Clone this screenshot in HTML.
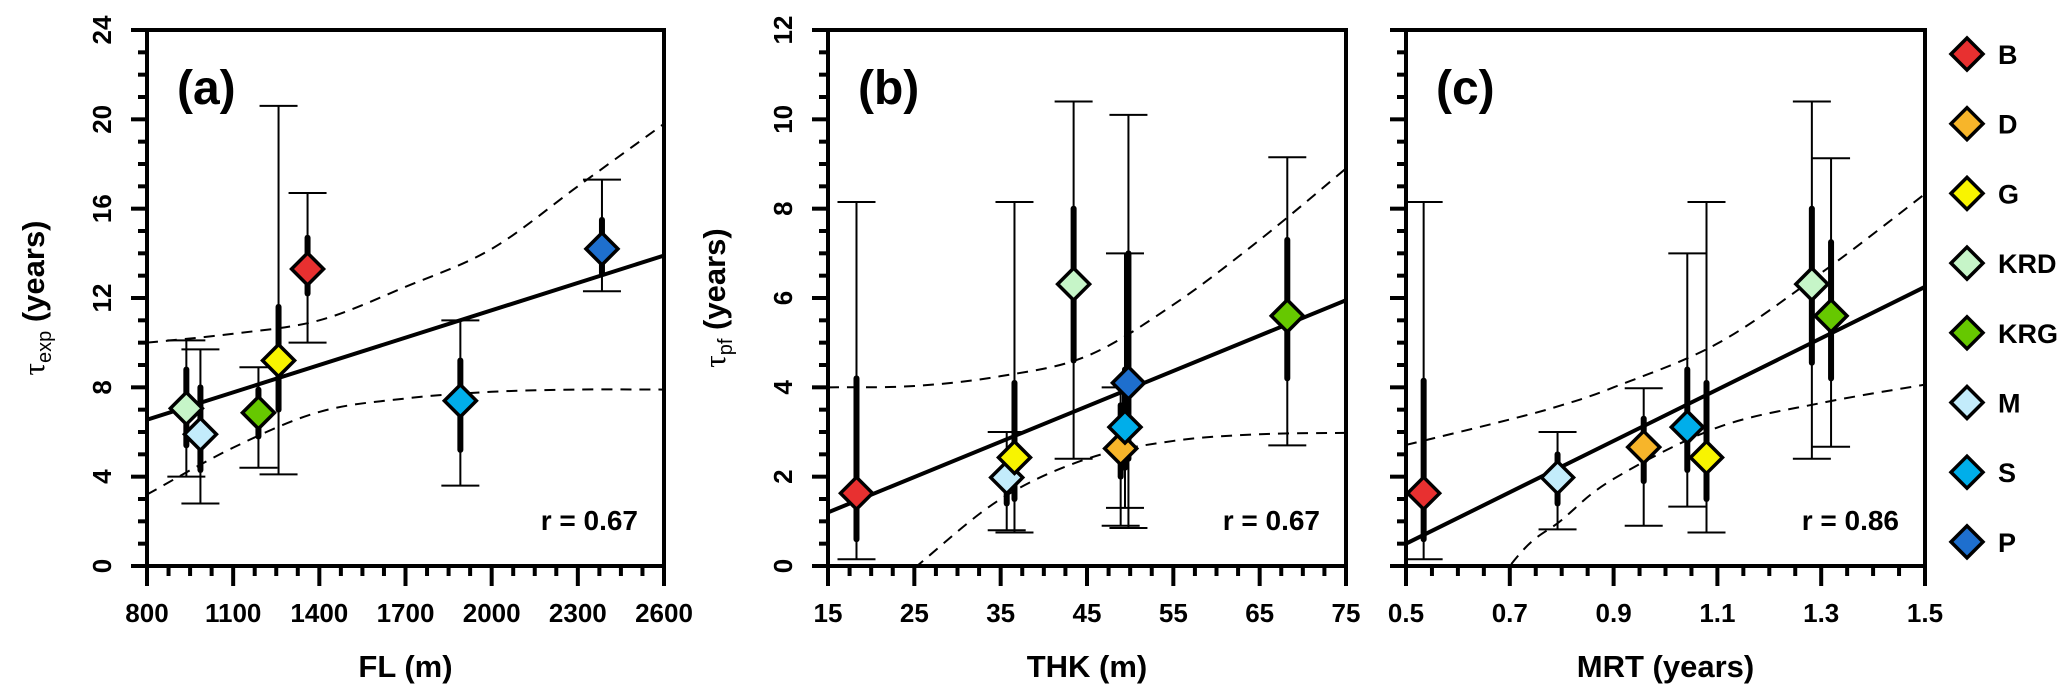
<!DOCTYPE html>
<html><head><meta charset="utf-8"><style>
html,body{margin:0;padding:0;background:#fff;}
svg{display:block;font-family:"Liberation Sans",Arial,sans-serif;font-weight:bold;}
</style></head><body>
<svg id="chart" width="2067" height="692" viewBox="0 0 2067 692" xmlns="http://www.w3.org/2000/svg"></svg>
<script>
// ---- data ----
const names = ["B","D","G","KRD","KRG","M","S","P"];
const colors = ["#e83030","#f7b52a","#f8f400","#c6f5c8","#66c800","#c3ecfb","#00aeea","#1e6fce"];

// panel a: FL vs tau_exp
const aNames = ["KRD","M","KRG","G","B","S","P"];
const aX = [937,986,1188,1258,1359,1891,2384];
const aY = [7.06,5.9,6.86,9.2,13.3,7.4,14.2];
const aThickLo = [5.4,4.3,5.8,7.0,12.2,5.2,13.1];
const aThickHi = [8.8,8.0,7.9,11.6,14.7,9.2,15.5];
const aOutLo = [4.0,2.8,4.4,4.1,10.0,3.6,12.3];
const aOutHi = [10.1,9.7,8.9,20.6,16.7,11.0,17.3];
const aFit = [6.55,13.9];
const aBandX = [800,1100,1400,1700,2000,2300,2600];
const aBandUp = [10.0,10.4,11.0,12.5,14.2,17.0,19.8];
const aBandLo = [3.2,5.3,6.9,7.5,7.8,7.9,7.9];
const aXTicks = [800,1100,1400,1700,2000,2300,2600];
const aYTicks = [0,4,8,12,16,20,24];

// panel b: THK vs tau_pf
const bNames = ["B","M","G","KRD","D","S","P","KRG"];
const bX = [18.3,35.7,36.6,43.45,48.9,49.4,49.8,68.2];
const bY = [1.63,1.98,2.43,6.31,2.63,3.11,4.1,5.6];
const bThickLo = [0.6,1.4,1.5,4.6,2.0,2.2,2.4,4.2];
const bThickHi = [4.2,2.3,4.1,8.0,3.6,4.4,7.0,7.3];
const bOutLo = [0.15,0.8,0.75,2.4,0.9,1.3,0.85,2.7];
const bOutHi = [8.15,3.0,8.15,10.4,4.0,7.0,10.1,9.15];
const bFit = [1.2,5.95];
const bBandX = [15,25,35,45,55,65,75];
const bBandUp = [4.0,4.03,4.25,4.7,5.85,7.3,8.9];
const bBandLo = [-1.7,-0.05,1.5,2.4,2.8,2.95,2.98];
const bXTicks = [15,25,35,45,55,65,75];
const bYTicks = [0,2,4,6,8,10,12];

// panel c: MRT vs tau_pf
const cNames = ["B","M","D","S","G","KRD","KRG"];
const cX = [0.534,0.792,0.958,1.042,1.079,1.282,1.319];
const cY = [1.63,1.98,2.66,3.11,2.43,6.31,5.6];
const cThickLo = [0.6,1.4,1.9,2.15,1.5,4.55,4.2];
const cThickHi = [4.15,2.5,3.3,4.4,4.1,8.0,7.25];
const cOutLo = [0.15,0.82,0.9,1.33,0.75,2.4,2.67];
const cOutHi = [8.15,3.0,3.98,7.0,8.15,10.4,9.13];
const cFit = [0.5,6.25];
const cBandX = [0.5,0.7,0.8,0.9,1.1,1.3,1.5];
const cBandUp = [2.71,3.28,3.6,4.0,4.98,6.56,8.33];
const cBandLo = [-3.5,0.0,1.03,1.95,3.1,3.65,4.06];
const cXTicks = [0.5,0.7,0.9,1.1,1.3,1.5];
const cYTicks = [0,2,4,6,8,10,12];

const NS = "http://www.w3.org/2000/svg";
const svg = document.getElementById("chart");
function el(tag, attrs, parent){
  const e = document.createElementNS(NS, tag);
  for (const k in attrs) e.setAttribute(k, attrs[k]);
  (parent||svg).appendChild(e);
  return e;
}
function colorOf(n){ return colors[names.indexOf(n)]; }
function smoothPath(pts){
  let d = "M" + pts[0][0] + "," + pts[0][1];
  for (let i = 0; i < pts.length - 1; i++) {
    const p0 = pts[Math.max(0, i - 1)], p1 = pts[i], p2 = pts[i + 1], p3 = pts[Math.min(pts.length - 1, i + 2)];
    const c1x = p1[0] + (p2[0] - p0[0]) / 6, c1y = p1[1] + (p2[1] - p0[1]) / 6;
    const c2x = p2[0] - (p3[0] - p1[0]) / 6, c2y = p2[1] - (p3[1] - p1[1]) / 6;
    d += ` C${c1x},${c1y} ${c2x},${c2y} ${p2[0]},${p2[1]}`;
  }
  return d;
}

function panel(cfg){
  const {id,L,R,T,B,xmin,xmax,ymin,ymax,xTicks,yTicks,xMinorStep,yMinorStep,yLabels} = cfg;
  const sx = v => L + (v - xmin) / (xmax - xmin) * (R - L);
  const sy = v => B - (v - ymin) / (ymax - ymin) * (B - T);
  const g = el("g", {});
  
  
  const clip = el("clipPath", {id: "clip-" + id}, g);
  el("rect", {x: L, y: T, width: R - L, height: B - T}, clip);

  const ticks = el("g", {stroke: "#000", "stroke-width": 4}, g);
  
  
  for (let v = xmin; v <= xmax + 1e-9; v += xMinorStep) {
    const major = xTicks.some(t => Math.abs(t - v) < 1e-6);
    el("line", {x1: sx(v), x2: sx(v), y1: B, y2: B + (major ? 20 : 10)}, ticks);
  }
  for (let v = ymin; v <= ymax + 1e-9; v += yMinorStep) {
    const major = yTicks.some(t => Math.abs(t - v) < 1e-6);
    el("line", {x1: L, x2: L - (major ? 16 : 9), y1: sy(v), y2: sy(v)}, ticks);
  }
  xTicks.forEach(t => {
    const tx = el("text", {x: sx(t), y: 622, "text-anchor": "middle", "font-size": 26}, g);
    tx.textContent = String(t);
    
    
  });
  if (yLabels) {
    yTicks.forEach(t => {
      const tx = el("text", {x: 0, y: 0, "text-anchor": "middle", "font-size": 26,
        transform: `translate(${L - 36},${sy(t)}) rotate(-90)`}, g);
      tx.textContent = String(t);
      
      
    });
  }

  const plot = el("g", {"clip-path": `url(#clip-${id})`}, g);
  [cfg.bandUp, cfg.bandLo].forEach((arr, i) => {
    const pts = cfg.bandX.map((x, k) => [sx(x), sy(arr[k])]);
    const p = el("path", {d: smoothPath(pts), fill: "none", stroke: "#000", "stroke-width": 2, "stroke-dasharray": "11,8"}, plot);
    
    
  });
  const fit = el("line", {x1: sx(xmin), y1: sy(cfg.fit[0]), x2: sx(xmax), y2: sy(cfg.fit[1]), stroke: "#000", "stroke-width": 4}, plot);
  
  

  cfg.pn.forEach((n, i) => {
    const x = sx(cfg.px[i]);
    const eb = el("g", {stroke: "#000"}, g);
    
    
    el("line", {x1: x, x2: x, y1: sy(cfg.oLo[i]), y2: sy(cfg.oHi[i]), "stroke-width": 2}, eb);
    el("line", {x1: x - 19, x2: x + 19, y1: sy(cfg.oLo[i]), y2: sy(cfg.oLo[i]), "stroke-width": 2}, eb);
    el("line", {x1: x - 19, x2: x + 19, y1: sy(cfg.oHi[i]), y2: sy(cfg.oHi[i]), "stroke-width": 2}, eb);
    el("line", {x1: x, x2: x, y1: sy(cfg.tLo[i]), y2: sy(cfg.tHi[i]), "stroke-width": 6, "stroke-linecap": "round"}, eb);
  });
  cfg.pn.forEach((n, i) => {
    const x = sx(cfg.px[i]), y = sy(cfg.py[i]), h = 16;
    const m = el("polygon", {points: `${x},${y-h} ${x+h},${y} ${x},${y+h} ${x-h},${y}`,
      fill: colorOf(n), stroke: "#000", "stroke-width": 3.5, "stroke-linejoin": "miter"}, g);
    
    
  });

  const fr = el("rect", {x: L, y: T, width: R - L, height: B - T, fill: "none", stroke: "#000", "stroke-width": 4}, g);
  
  

  const lab = el("text", {x: L + 30, y: 104, "font-size": 48}, g);
  lab.textContent = "(" + id + ")";
  
  
  const r = el("text", {x: R - 26, y: 530, "text-anchor": "end", "font-size": 28}, g);
  r.textContent = cfg.r;
  
  
  const xt = el("text", {x: (L + R) / 2, y: 677, "text-anchor": "middle", "font-size": 31}, g);
  xt.textContent = cfg.xTitle;
  
  
  if (cfg.ySub) {
    const yt = el("text", {x: 0, y: 0, "text-anchor": "middle", "font-size": 31,
      transform: `translate(${L - 103},${(T + B) / 2}) rotate(-90)`}, g);
    
    
    const t1 = el("tspan", {"font-weight": "normal", "font-family": "Liberation Serif, serif"}, yt); t1.textContent = "τ";
    const t2 = el("tspan", {"font-size": 20, dy: 7, "font-weight": "normal"}, yt); t2.textContent = cfg.ySub;
    const t3 = el("tspan", {dy: -7}, yt); t3.textContent = " (years)";
  }
}

panel({id:"a",L:147,R:664,T:30,B:566,xmin:800,xmax:2600,ymin:0,ymax:24,xTicks:aXTicks,yTicks:aYTicks,xMinorStep:75,yMinorStep:1,yLabels:true,
  pn:aNames,px:aX,py:aY,tLo:aThickLo,tHi:aThickHi,oLo:aOutLo,oHi:aOutHi,fit:aFit,bandX:aBandX,bandUp:aBandUp,bandLo:aBandLo,
  r:"r = 0.67",xTitle:"FL (m)",ySub:"exp"});
panel({id:"b",L:828,R:1346,T:30,B:566,xmin:15,xmax:75,ymin:0,ymax:12,xTicks:bXTicks,yTicks:bYTicks,xMinorStep:2.5,yMinorStep:0.5,yLabels:true,
  pn:bNames,px:bX,py:bY,tLo:bThickLo,tHi:bThickHi,oLo:bOutLo,oHi:bOutHi,fit:bFit,bandX:bBandX,bandUp:bBandUp,bandLo:bBandLo,
  r:"r = 0.67",xTitle:"THK (m)",ySub:"pf"});
panel({id:"c",L:1406,R:1925,T:30,B:566,xmin:0.5,xmax:1.5,ymin:0,ymax:12,xTicks:cXTicks,yTicks:cYTicks,xMinorStep:0.05,yMinorStep:0.5,yLabels:false,
  pn:cNames,px:cX,py:cY,tLo:cThickLo,tHi:cThickHi,oLo:cOutLo,oHi:cOutHi,fit:cFit,bandX:cBandX,bandUp:cBandUp,bandLo:cBandLo,
  r:"r = 0.86",xTitle:"MRT (years)",ySub:null});

const lg = el("g", {});


names.forEach((n, i) => {
  const y = 54 + i * 69.7, x = 1967, h = 16;
  const item = el("g", {}, lg);
  
  
  el("polygon", {points: `${x},${y-h} ${x+h},${y} ${x},${y+h} ${x-h},${y}`, fill: colors[i], stroke: "#000", "stroke-width": 3.5}, item);
  const t = el("text", {x: 1998, y: y + 10, "font-size": 27}, item);
  t.textContent = n;
});
</script>
</body></html>
